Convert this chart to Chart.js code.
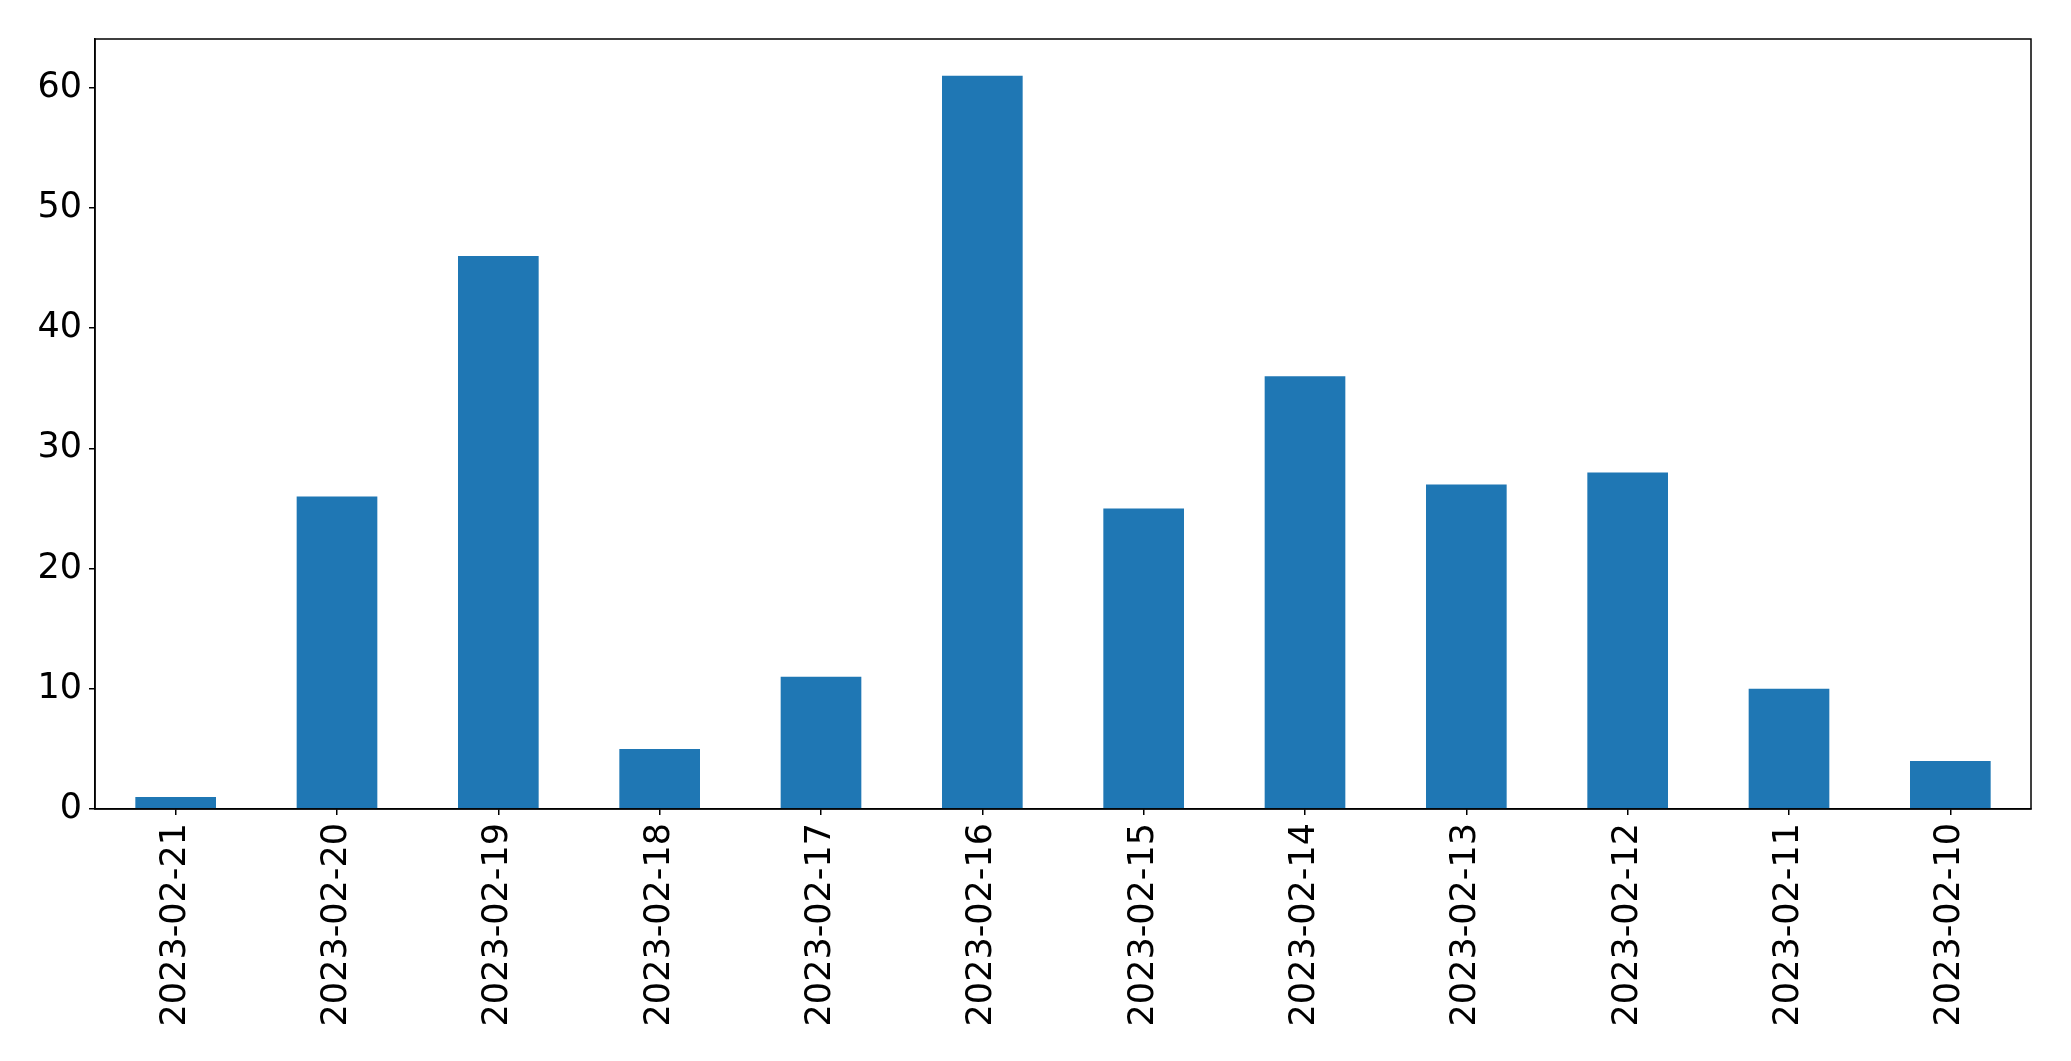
<!DOCTYPE html>
<html>
<head>
<meta charset="utf-8">
<script src="https://cdn.jsdelivr.net/npm/chart.js@4"></script>
<style>
html,body{margin:0;padding:0;background:#fff;}
#wrap{width:2071px;height:1061px;position:relative;}
</style>
</head>
<body>
<div id="wrap"><canvas id="c" width="2071" height="1061"></canvas></div>
<script>
const categories = ["2023-02-21","2023-02-20","2023-02-19","2023-02-18","2023-02-17","2023-02-16","2023-02-15","2023-02-14","2023-02-13","2023-02-12","2023-02-11","2023-02-10"];
const counts = [1, 26, 46, 5, 11, 61, 25, 36, 27, 28, 10, 4];
const yTicks = [0, 10, 20, 30, 40, 50, 60];

const FONT = {family: "'DejaVu Sans'", size: 35};
const frame = {
  id: 'frame',
  afterDraw(chart) {
    const a = chart.chartArea, ctx = chart.ctx;
    ctx.save();
    ctx.strokeStyle = '#000';
    ctx.lineWidth = 1.5;
    ctx.strokeRect(a.left, a.top, a.right - a.left, a.bottom - a.top);
    ctx.restore();
  }
};

new Chart(document.getElementById('c'), {
  type: 'bar',
  data: {
    labels: categories,
    datasets: [{data: counts, backgroundColor: '#1f77b4', borderWidth: 0,
      categoryPercentage: 1.0, barPercentage: 0.5}]
  },
  options: {
    responsive: false,
    animation: false,
    devicePixelRatio: 1,
    layout: {padding: {left: 0, top: 39, right: 40, bottom: 0}},
    plugins: {legend: {display: false}, tooltip: {enabled: false}},
    scales: {
      x: {
        offset: true,
        grid: {display: true, offset: false, drawOnChartArea: false, drawTicks: true, tickLength: 6, color: '#000', lineWidth: 1.5},
        border: {display: true, color: '#000', width: 1.5},
        ticks: {color: '#000', font: FONT, minRotation: 90, maxRotation: 90, padding: 8, autoSkip: false},
        afterFit(axis) { axis.height = 252; }
      },
      y: {
        min: 0, max: 64.05,
        grid: {display: true, drawOnChartArea: false, drawTicks: true, tickLength: 6, color: '#000', lineWidth: 1.5},
        border: {display: true, color: '#000', width: 1.5},
        ticks: {color: '#000', font: FONT, padding: 7},
        afterBuildTicks(axis) { axis.ticks = yTicks.map(v => ({value: v})); },
        afterFit(axis) { axis.width = 95; }
      }
    }
  },
  plugins: [frame]
});
</script>
</body>
</html>
